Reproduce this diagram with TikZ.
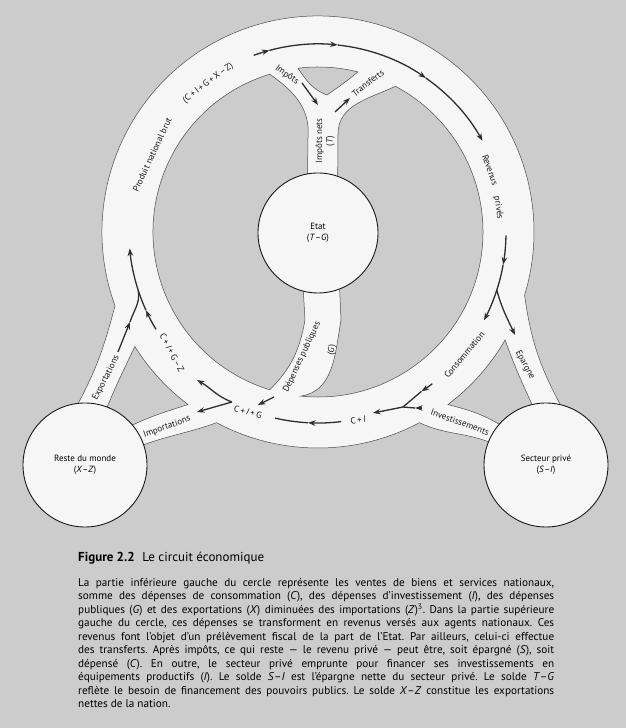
\documentclass[tikz,border=0pt]{standalone}
\usepackage{fontspec}
\setmainfont{PT Sans}
\usetikzlibrary{arrows.meta}
\frenchspacing

\definecolor{gris}{gray}{0.80}
\definecolor{canal}{gray}{0.965}
\definecolor{fleche}{gray}{0.18}

\pgfdeclarelayer{fond}
\pgfsetlayers{fond,main}

\newcommand{\pl}{\,+\,}
\newcommand{\mn}{\,–\,}

\tikzset{
  bord/.style={draw=black!70, line width=0.5pt},
  flux/.style={draw=fleche, line width=1.3pt},
  lbl/.style={font=\fontsize{9}{10.5}\selectfont, inner sep=0pt, text=black!90},
  pole/.style={circle, draw=black!90, line width=0.9pt, fill=canal, minimum size=124pt,
    inner sep=0pt, align=center, font=\fontsize{9}{11.5}\selectfont},
}

\begin{document}
\begin{tikzpicture}[x=1pt,y=1pt,>={Stealth[length=7.5pt,width=5.5pt]}]
\useasboundingbox (0,0) rectangle (626,728);
\begin{pgfonlayer}{fond}
\fill[gris] (0,0) rectangle (626,728);
\end{pgfonlayer}

\begin{scope}[shift={(318,496)}]
\node[pole, minimum size=120pt] (etat) at (0,-1) {Etat\\(\textit{T}–\textit{G})};
\node[pole] (reste) at (-233,-233) {Reste du monde\\(\textit{X}–\textit{Z})};
\node[pole] (prive) at (228,-233) {Secteur privé\\(\textit{S}–\textit{I})};

\begin{pgfonlayer}{fond}
\filldraw[bord, fill=canal] (200:216) arc[start angle=200, end angle=-17, radius=216]
  to[out=-82,in=118] (prive.77) -- (prive.158)
  to[out=160,in=-25] (-62:216) arc[start angle=-62, end angle=-118, radius=216]
  to[out=-160,in=20] (reste.19) -- (reste.96)
  to[out=62,in=-105] (200:216) -- cycle;
\filldraw[bord, fill=gris] (212:216) arc[start angle=212, end angle=233, radius=216]
  to[out=-162,in=25] (reste.40) -- (reste.69)
  to[out=68,in=-115] (212:216) -- cycle;
\filldraw[bord, fill=gris] (-30:216) to[out=-70,in=115] (prive.103) -- (prive.139)
  to[out=150,in=-15] (-53:216) arc[start angle=-53, end angle=-30, radius=216] -- cycle;
\filldraw[bord, fill=gris] (107:165) arc[start angle=107, end angle=253, radius=165]
  to[out=45,in=-100] (-13,-88) -- (etat.256) -- (etat.100) -- (-10,95)
  to[out=85,in=-35] (107:165) -- cycle;
\filldraw[bord, fill=gris] (etat.-69) -- (23,-88) to[out=-100,in=8] (264:165)
  arc[start angle=264, end angle=422, radius=165]
  to[out=-155,in=90] (20,98) -- (etat.71) -- cycle;
\filldraw[bord, fill=gris] (76:165) arc[start angle=76, end angle=97, radius=165]
  to[out=-55,in=160] (9,137) to[out=35,in=-140] (76:165) -- cycle;
\end{pgfonlayer}

\coordinate (split) at (-18:188);
\coordinate (fusion) at (85,-175);
\coordinate (cig) at (-86,-170);
\coordinate (merge) at (198:189);

\draw[flux,->] (110:188) arc[start angle=110, end angle=105, radius=188];
\draw[flux,->] (105:188) arc[start angle=105, end angle=84, radius=188];
\draw[flux,->] (84:188) arc[start angle=84, end angle=55, radius=188];
\draw[flux,->] (55:188) arc[start angle=55, end angle=29, radius=188];
\draw[flux,->] (-16,149) -- (0,127);
\draw[flux,->] (17,120) -- (32,134);

\draw[flux,->] (-1:188) arc[start angle=-1, end angle=-10, radius=188];
\draw[flux] (-10:188) arc[start angle=-10, end angle=-18, radius=188];
\draw[flux,->] (split) arc[start angle=-18, end angle=-28, radius=188];
\draw[flux,->] (split) to[out=-75,in=115] (197,-103);

\draw[flux,->] (-53:190) arc[start angle=-53, end angle=-57, radius=190];
\draw[flux] (-57:190) -- (fusion);
\draw[flux,->] (104,-176) -- (97,-176);
\draw[flux] (97,-176) -- (fusion);
\draw[flux,->] (fusion) -- (55,-181);

\draw[flux,->] (-83:191) arc[start angle=-83, end angle=-93, radius=191];
\draw[flux] (-93:191) arc[start angle=-93, end angle=-103, radius=191];
\draw[flux,->] (-44,-165) -- (-60,-173);

\draw[flux,->] (cig) to[out=160,in=-30] (-121,-148);
\draw[flux,->] (cig) -- (-121,-180);

\draw[flux,->] (211:189) arc[start angle=211, end angle=204.5, radius=189];
\draw[flux] (204.5:189) arc[start angle=204.5, end angle=198, radius=189];
\draw[flux,->] (merge) arc[start angle=198, end angle=185, radius=189];
\draw[flux,->] (-200,-120) -- (-188,-90);
\draw[flux] (-188,-90) to[out=72,in=-80] (merge);

\node[lbl, rotate=65] (pnb) at (155:183) {Produit national brut};
\node[lbl, rotate=37] (pnbf) at (126.4:185) {(C\pl I\pl G\pl X\mn Z)};
\node[lbl, rotate=-35] (impots) at (-31,157) {Impôts};
\node[lbl, rotate=38] (transferts) at (50,149) {Transferts};
\node[lbl, rotate=90, align=center] (impnets) at (7,91) {Impôts nets\\(\textit{T})};
\node[lbl, rotate=-70] (revenus) at (19.8:183) {Revenus};
\node[lbl, rotate=-82] (prives) at (7.6:182) {privés};
\node[lbl, rotate=50] (conso) at (-40:191) {Consommation};
\node[lbl, rotate=-62] (epargne) at (207,-133) {Epargne};
\node[lbl, rotate=-20] (invest) at (142,-190) {Investissements};
\node[lbl, rotate=10] (ci) at (40,-188) {C\pl\textit{I}};
\node[lbl, rotate=-15] (cigl) at (-70,-180) {C\pl\textit{I}\pl G};
\node[lbl, rotate=65] (depenses) at (-16,-125) {Dépenses publiques};
\node[lbl, rotate=80] (g) at (14,-118) {(\textit{G})};
\node[lbl, rotate=-62] (cigz) at (-146,-121) {C\pl\textit{I}\pl G\mn Z};
\node[lbl, rotate=63] (export) at (-212,-146) {Exportations};
\node[lbl, rotate=20] (import) at (-151,-195) {Importations};
\end{scope}

\node[anchor=base west, inner sep=0pt, font=\fontsize{13}{15}\selectfont] (titre) at (78,166)
  {\textbf{Figure 2.2}\hspace{0.6em}Le circuit économique};
\node[anchor=north west, inner sep=0pt, text width=476pt, align=justify,
  font=\fontsize{11.2}{13.5}\selectfont] (legende) at (78,150)
  {La partie inférieure gauche du cercle représente les ventes de biens et services nationaux,\linebreak
  somme des dépenses de consommation (\textit{C}), des dépenses d’investissement (\textit{I}), des dépenses\linebreak
  publiques (\textit{G}) et des exportations (\textit{X}) diminuées des importations (\textit{Z})\textsuperscript{3}. Dans la partie supérieure\linebreak
  gauche du cercle, ces dépenses se transforment en revenus versés aux agents nationaux. Ces\linebreak
  revenus font l’objet d’un prélèvement fiscal de la part de l’Etat. Par ailleurs, celui-ci effectue\linebreak
  des transferts. Après impôts, ce qui reste — le revenu privé — peut être, soit épargné (\textit{S}), soit\linebreak
  dépensé (\textit{C}). En outre, le secteur privé emprunte pour financer ses investissements en\linebreak
  équipements productifs (\textit{I}). Le solde \textit{S}–\textit{I} est l’épargne nette du secteur privé. Le solde \textit{T}–\textit{G}\linebreak
  reflète le besoin de financement des pouvoirs publics. Le solde \textit{X}–\textit{Z} constitue les exportations\linebreak
  nettes de la nation.};
\end{tikzpicture}
\end{document}
